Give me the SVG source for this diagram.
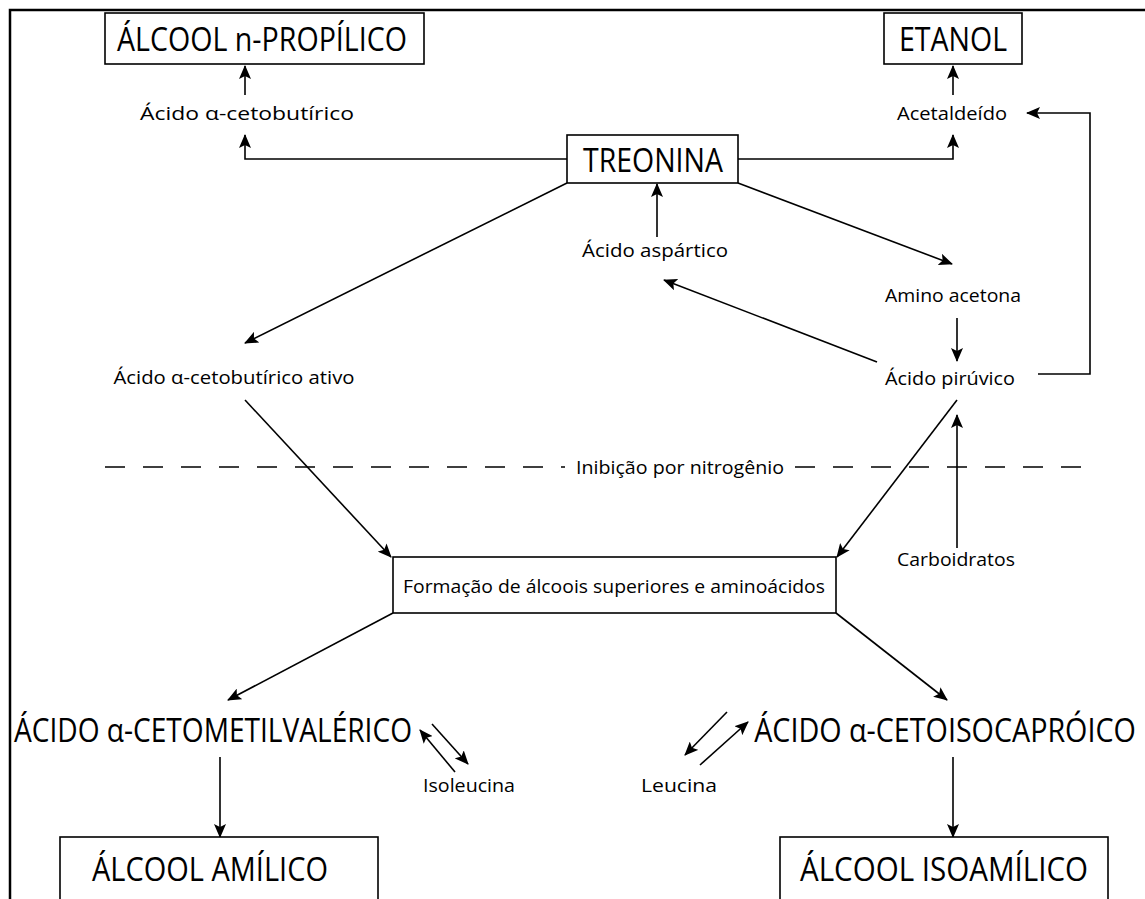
<svg xmlns="http://www.w3.org/2000/svg" width="1145" height="899" viewBox="0 0 1145 899">
<style>
.big{font-family:"Open Sans","Noto Sans",sans-serif;font-size:33px;fill:#000;text-anchor:middle}
.sm{font-family:"Open Sans","Noto Sans",sans-serif;font-size:18px;fill:#000;text-anchor:middle}
.box{fill:#fff;stroke:#000;stroke-width:1.6}
.ln{fill:none;stroke:#000;stroke-width:1.6}
.ar{fill:none;stroke:#000;stroke-width:1.6;marker-end:url(#ah)}
.dash{fill:none;stroke:#000;stroke-width:1.6;stroke-dasharray:20 18}
</style>
<defs>
<marker id="ah" markerUnits="userSpaceOnUse" markerWidth="14" markerHeight="12" refX="13" refY="6" orient="auto">
<path d="M0,0 L14,6 L0,12 L3,6 z" fill="#000"/>
</marker>
</defs>
<rect width="1145" height="899" fill="#fff"/>
<g id="frame">
<path d="M10,899 L10,10 L1145,10" fill="none" stroke="#000" stroke-width="2.5"/>
</g>
<g id="connectors">
<line class="ar" x1="245" y1="95" x2="245" y2="66"/>
<line class="ar" x1="953" y1="95" x2="953" y2="66"/>
<polyline class="ar" points="567,159 245,159 245,135"/>
<polyline class="ar" points="738,159 953,159 953,135"/>
<polyline class="ar" points="1038,374 1090,374 1090,113 1027,113"/>
<line class="ar" x1="657" y1="237" x2="657" y2="184"/>
<line class="ar" x1="567" y1="183" x2="245" y2="343"/>
<line class="ar" x1="738" y1="183" x2="952" y2="264"/>
<line class="ar" x1="957" y1="318" x2="957" y2="361"/>
<line class="ar" x1="877" y1="362" x2="664" y2="280"/>
<line class="ar" x1="245" y1="400" x2="391" y2="557"/>
<line class="ar" x1="957" y1="400" x2="837" y2="557"/>
<line class="dash" x1="105" y1="467" x2="565" y2="467"/>
<line class="dash" x1="795" y1="467" x2="1092" y2="467"/>
<line class="ar" x1="957" y1="548" x2="957" y2="415"/>
<line class="ar" x1="393" y1="613" x2="228" y2="700"/>
<line class="ar" x1="836" y1="613" x2="947" y2="700"/>
<line class="ar" x1="220" y1="757" x2="220" y2="837"/>
<line class="ar" x1="953" y1="757" x2="953" y2="837"/>
<line class="ar" x1="432" y1="724" x2="468" y2="764"/>
<line class="ar" x1="455" y1="772" x2="420" y2="730"/>
<line class="ar" x1="727" y1="712" x2="685" y2="755"/>
<line class="ar" x1="700" y1="765" x2="748" y2="722"/>
</g>
<g id="n-propilico"><rect class="box" x="105" y="13" width="319" height="51"/><text class="big" x="262" y="51" textLength="290" lengthAdjust="spacingAndGlyphs">ÁLCOOL n-PROPÍLICO</text></g>
<g id="etanol"><rect class="box" x="884" y="13" width="138" height="51"/><text class="big" x="953" y="51" textLength="108" lengthAdjust="spacingAndGlyphs">ETANOL</text></g>
<g id="cetobutirico"><text class="sm" x="247" y="120" textLength="214" lengthAdjust="spacingAndGlyphs">Ácido α-cetobutírico</text></g>
<g id="acetaldeido"><text class="sm" x="952" y="120" textLength="110" lengthAdjust="spacingAndGlyphs">Acetaldeído</text></g>
<g id="treonina"><rect class="box" x="567" y="135" width="171" height="48"/><text class="big" x="653" y="172" textLength="140" lengthAdjust="spacingAndGlyphs">TREONINA</text></g>
<g id="aspartico"><text class="sm" x="655" y="257" textLength="146" lengthAdjust="spacingAndGlyphs">Ácido aspártico</text></g>
<g id="amino-acetona"><text class="sm" x="953" y="302" textLength="136" lengthAdjust="spacingAndGlyphs">Amino acetona</text></g>
<g id="piruvico"><text class="sm" x="950" y="385" textLength="130" lengthAdjust="spacingAndGlyphs">Ácido pirúvico</text></g>
<g id="cetobutirico-ativo"><text class="sm" x="234" y="384" textLength="241" lengthAdjust="spacingAndGlyphs">Ácido α-cetobutírico ativo</text></g>
<g id="inibicao"><text class="sm" x="680" y="474" textLength="208" lengthAdjust="spacingAndGlyphs">Inibição por nitrogênio</text></g>
<g id="carboidratos"><text class="sm" x="956" y="566" textLength="118" lengthAdjust="spacingAndGlyphs">Carboidratos</text></g>
<g id="formacao"><rect class="box" x="393" y="557" width="443" height="56"/><text class="sm" x="614" y="593" textLength="422" lengthAdjust="spacingAndGlyphs">Formação de álcoois superiores e aminoácidos</text></g>
<g id="cetometilvalerico"><text class="big" x="213" y="742" textLength="398" lengthAdjust="spacingAndGlyphs">ÁCIDO α-CETOMETILVALÉRICO</text></g>
<g id="cetoisocaproico"><text class="big" transform="translate(945,742) scale(0.87,1)" x="0" y="0">ÁCIDO α-CETOISOCAPRÓICO</text></g>
<g id="isoleucina"><text class="sm" x="469" y="792" textLength="92" lengthAdjust="spacingAndGlyphs">Isoleucina</text></g>
<g id="leucina"><text class="sm" x="679" y="792" textLength="76" lengthAdjust="spacingAndGlyphs">Leucina</text></g>
<g id="amilico"><rect class="box" x="60" y="837" width="318" height="70"/><text class="big" x="210" y="881" textLength="236" lengthAdjust="spacingAndGlyphs">ÁLCOOL AMÍLICO</text></g>
<g id="isoamilico"><rect class="box" x="780" y="837" width="328" height="70"/><text class="big" x="944" y="881" textLength="288" lengthAdjust="spacingAndGlyphs">ÁLCOOL ISOAMÍLICO</text></g>
</svg>
